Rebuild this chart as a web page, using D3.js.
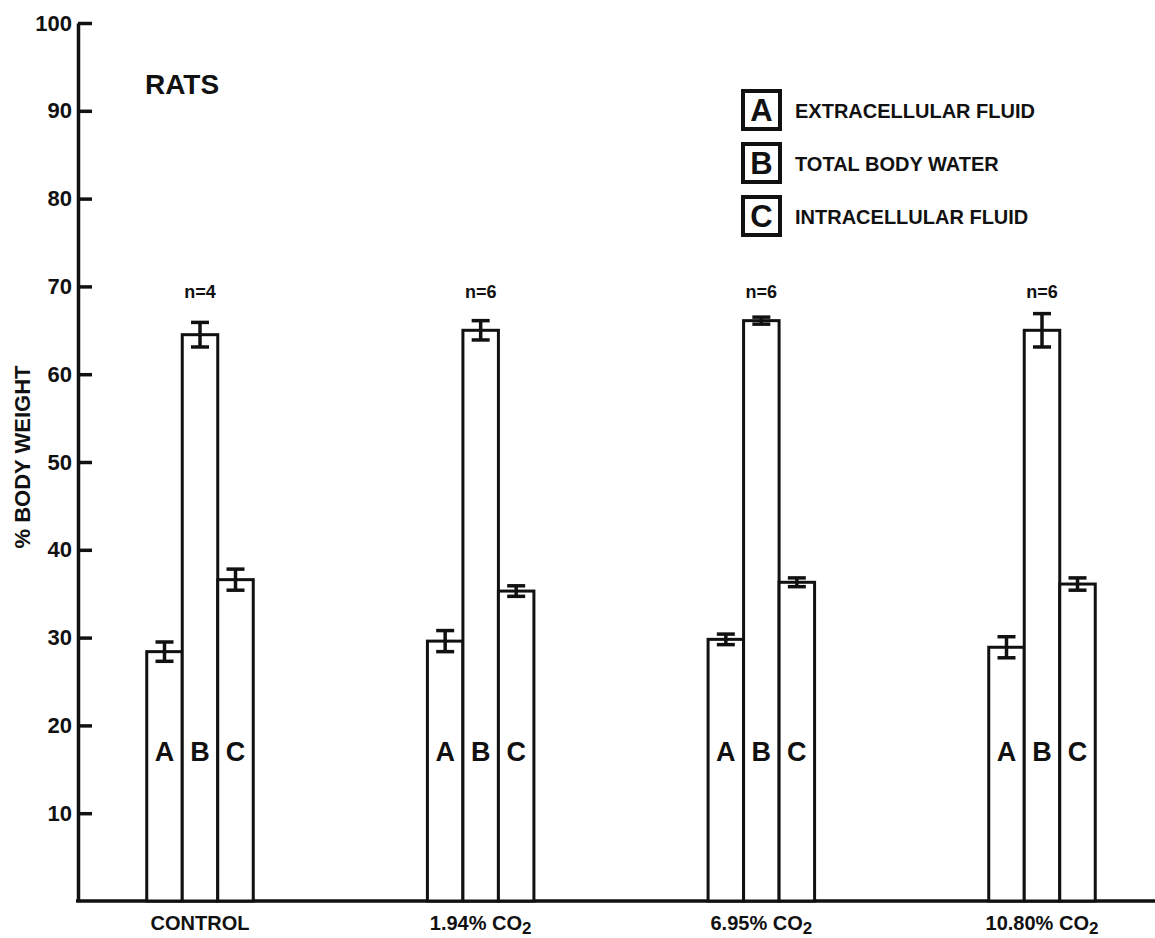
<!DOCTYPE html>
<html>
<head>
<meta charset="utf-8">
<script src="https://cdn.jsdelivr.net/npm/d3@7"></script>
<style>
  body { margin: 0; background: #fff; }
  svg { display: block; font-family: "Liberation Sans", Arial, sans-serif; font-weight: bold; }
</style>
</head>
<body>
<div id="chart"></div>
<script>
// data (% body weight, mean and error)
const groups = ["CONTROL", "1.94%", "6.95%", "10.80%"];
const groupGas = ["", "CO", "CO", "CO"];
const nLabels = ["n=4", "n=6", "n=6", "n=6"];
const seriesKeys = ["A", "B", "C"];
const seriesNames = ["EXTRACELLULAR FLUID", "TOTAL BODY WATER", "INTRACELLULAR FLUID"];
const ecf = [28.4, 29.6, 29.8, 28.9];
const ecfErr = [1.1, 1.2, 0.6, 1.2];
const tbw = [64.5, 65.0, 66.1, 65.0];
const tbwErr = [1.4, 1.1, 0.4, 1.9];
const icf = [36.6, 35.3, 36.3, 36.1];
const icfErr = [1.2, 0.6, 0.5, 0.7];
const yTicks = [10, 20, 30, 40, 50, 60, 70, 80, 90, 100];

const width = 1155, height = 938;
const plotLeft = 78, plotTop = 23, plotBottom = 901;

const values = [ecf, tbw, icf];
const errors = [ecfErr, tbwErr, icfErr];
const rows = [];
groups.forEach((g, i) => {
  seriesKeys.forEach((k, j) => {
    rows.push({group: g, key: k, value: values[j][i], err: errors[j][i]});
  });
});

const svg = d3.select("#chart").append("svg")
  .attr("width", width)
  .attr("height", height);

const y = d3.scaleLinear().domain([0, 100]).range([plotBottom, plotTop]);
const x = d3.scalePoint().domain(groups).range([200, 1042]);
const inner = d3.scaleBand().domain(seriesKeys).range([-53.25, 53.25]);
const bw = inner.bandwidth();

// y axis, ticks pointing inward
const yAxis = svg.append("g")
  .attr("transform", `translate(${plotLeft},0)`)
  .call(d3.axisLeft(y).tickValues(yTicks).tickSizeInner(-14).tickSizeOuter(0).tickPadding(6));
yAxis.select(".domain").attr("stroke", "#111").attr("stroke-width", 3.5);
yAxis.selectAll(".tick line").attr("stroke", "#111").attr("stroke-width", 3.5);
yAxis.selectAll(".tick text")
  .attr("fill", "#111")
  .style("font-size", "22px")
  .style("font-weight", "bold");

// x axis baseline runs to the page edge
svg.append("line")
  .attr("x1", plotLeft - 2).attr("x2", width)
  .attr("y1", y(0)).attr("y2", y(0))
  .attr("stroke", "#111").attr("stroke-width", 3.5);

const xLabels = svg.append("g").selectAll("text")
  .data(groups)
  .join("text")
  .attr("x", d => x(d))
  .attr("y", 930)
  .attr("text-anchor", "middle")
  .attr("fill", "#111")
  .style("font-size", "20px");
xLabels.append("tspan").text((d, i) => groupGas[i] ? d + " " + groupGas[i] : d);
xLabels.filter((d, i) => groupGas[i])
  .append("tspan")
  .attr("baseline-shift", "-25%")
  .style("font-size", "17px")
  .text("2");

// bars
const bars = svg.append("g");
bars.selectAll("rect")
  .data(rows)
  .join("rect")
  .attr("x", d => x(d.group) + inner(d.key))
  .attr("y", d => y(d.value))
  .attr("width", bw)
  .attr("height", d => y(0) - y(d.value))
  .attr("fill", "#fff")
  .attr("stroke", "#111")
  .attr("stroke-width", 3);

// error bars
const err = svg.append("g").attr("stroke", "#111").attr("stroke-width", 3.5);
err.selectAll(".stem")
  .data(rows)
  .join("line")
  .attr("class", "stem")
  .attr("x1", d => x(d.group) + inner(d.key) + bw / 2)
  .attr("x2", d => x(d.group) + inner(d.key) + bw / 2)
  .attr("y1", d => y(d.value - d.err))
  .attr("y2", d => y(d.value + d.err));
[1, -1].forEach(s => {
  err.selectAll(".cap" + (s > 0 ? "t" : "b"))
    .data(rows)
    .join("line")
    .attr("class", "cap" + (s > 0 ? "t" : "b"))
    .attr("x1", d => x(d.group) + inner(d.key) + bw / 2 - 9)
    .attr("x2", d => x(d.group) + inner(d.key) + bw / 2 + 9)
    .attr("y1", d => y(d.value + s * d.err))
    .attr("y2", d => y(d.value + s * d.err));
});

// letters inside bars
svg.append("g").selectAll("text")
  .data(rows)
  .join("text")
  .attr("x", d => x(d.group) + inner(d.key) + bw / 2)
  .attr("y", y(16))
  .attr("text-anchor", "middle")
  .attr("fill", "#111")
  .style("font-size", "27px")
  .text(d => d.key);

// n labels
svg.append("g").selectAll("text")
  .data(groups)
  .join("text")
  .attr("x", d => x(d))
  .attr("y", y(70) + 12)
  .attr("text-anchor", "middle")
  .attr("fill", "#111")
  .style("font-size", "18px")
  .text((d, i) => nLabels[i]);

// y title
svg.append("text")
  .attr("transform", "translate(30,457) rotate(-90)")
  .attr("text-anchor", "middle")
  .attr("fill", "#111")
  .style("font-size", "22px")
  .text("% BODY WEIGHT");

svg.append("text")
  .attr("x", 145).attr("y", 94)
  .attr("fill", "#111")
  .style("font-size", "28px")
  .text("RATS");

// legend
const legend = svg.append("g").attr("transform", "translate(743,91)");
const item = legend.selectAll("g")
  .data(seriesKeys)
  .join("g")
  .attr("transform", (d, i) => `translate(0,${i * 53})`);
item.append("rect")
  .attr("width", 37).attr("height", 38)
  .attr("fill", "#fff").attr("stroke", "#111").attr("stroke-width", 4);
item.append("text")
  .attr("x", 18.5).attr("y", 30)
  .attr("text-anchor", "middle")
  .attr("fill", "#111")
  .style("font-size", "31px")
  .text(d => d);
item.append("text")
  .attr("x", 52).attr("y", 27)
  .attr("fill", "#111")
  .style("font-size", "20px")
  .text((d, i) => seriesNames[i]);
</script>
</body>
</html>
